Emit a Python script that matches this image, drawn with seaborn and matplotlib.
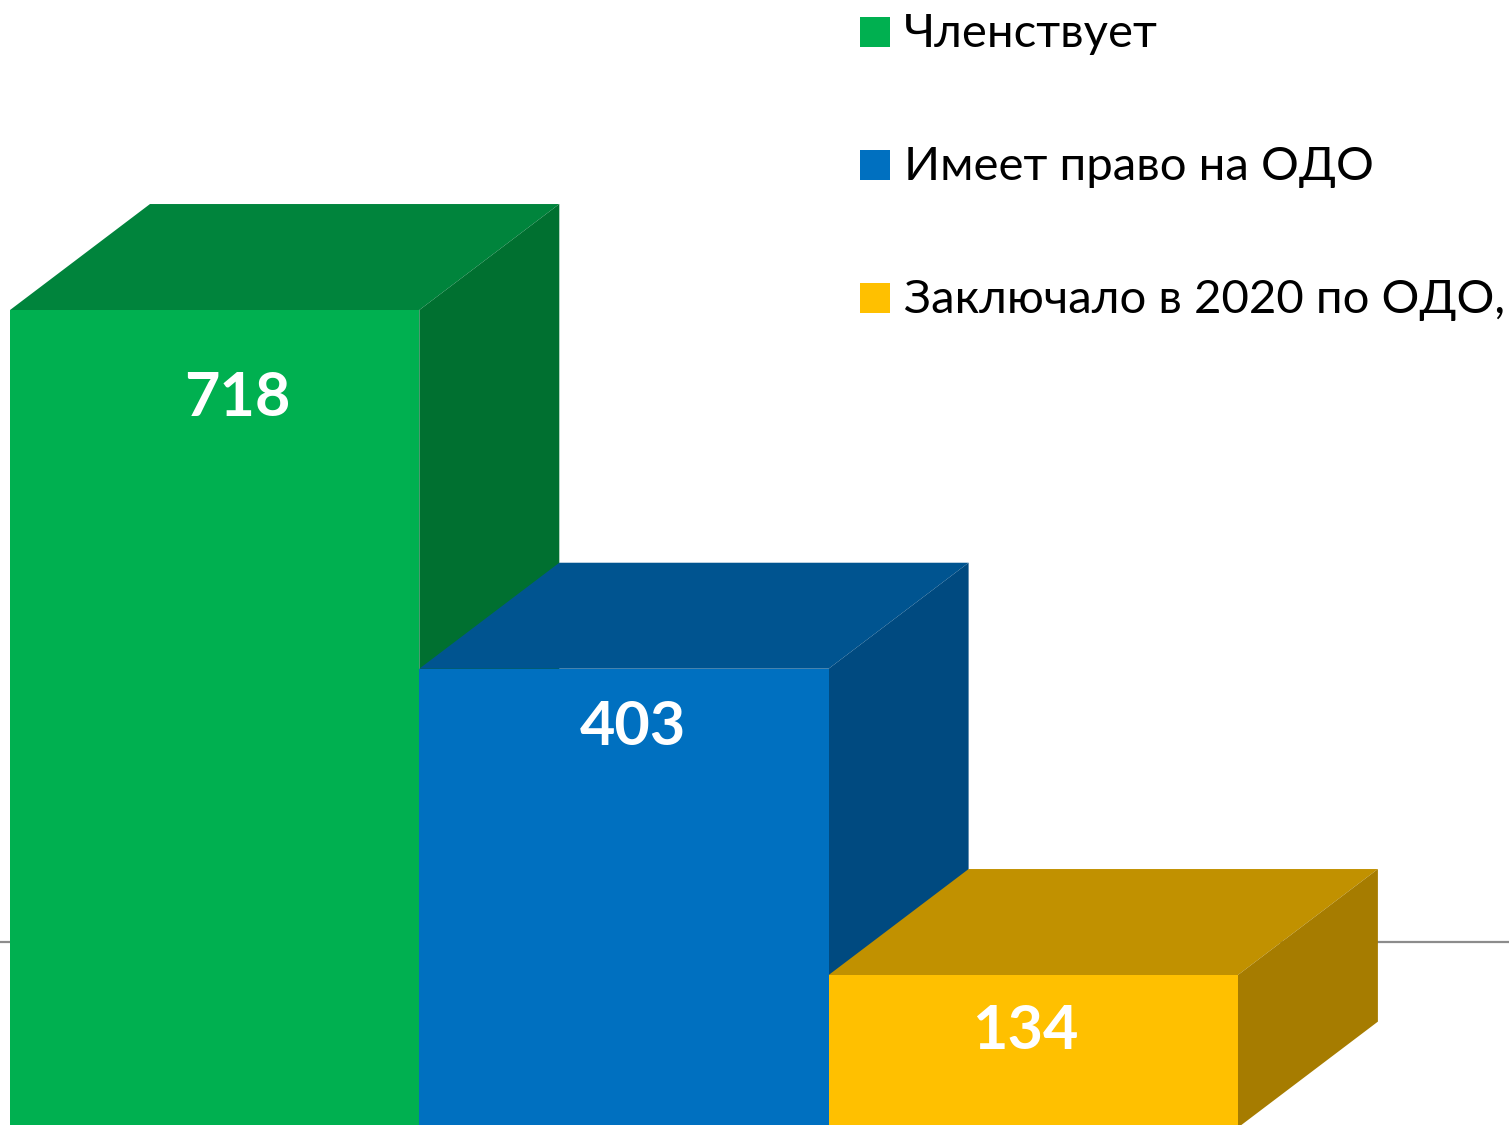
import matplotlib
matplotlib.use("Agg")
import matplotlib.pyplot as plt
import seaborn as sns
import pandas as pd
from matplotlib.patches import Polygon, Rectangle

labels = ["Членствует", "Имеет право на ОДО", "Заключало в 2020 по ОДО,"]
values = [718, 403, 134]
front_colors = ["#00B050", "#0070C0", "#FFC000"]
top_colors = ["#00843C", "#005490", "#C19100"]
side_colors = ["#007030", "#004A80", "#A67C00"]

W, H = 1509, 1125
sns.set_theme(style="white")
plt.rcParams["font.family"] = ["Lato", "Open Sans", "DejaVu Sans"]
fig = plt.figure(figsize=(W / 100, H / 100), dpi=100, facecolor="white")
ax = fig.add_axes([0, 0, 1, 1])

df = pd.DataFrame({"label": labels, "value": values})
sns.barplot(data=df, x="label", y="value", hue="label", palette=front_colors,
            width=1.0, dodge=False, legend=False, saturation=1, ax=ax, zorder=3,
            linewidth=0, edgecolor="none")

px_x = 409.3
px_y = 1.1387
base = 2.3
ax.set_xlim(-0.5 - 10 / px_x, -0.5 + (W - 10) / px_x)
ax.set_ylim(base, base + H / px_y)
ax.axis("off")

dx = 140 / px_x
dy = 106 / px_y
for i, v in enumerate(values):
    l, r = i - 0.5, i + 0.5
    ax.add_patch(Polygon([(l, v), (r, v), (r + dx, v + dy), (l + dx, v + dy)],
                         closed=True, fc=top_colors[i], ec="none", zorder=2 + i * .1))
    ax.add_patch(Polygon([(r, 0), (r, v), (r + dx, v + dy), (r + dx, dy)],
                         closed=True, fc=side_colors[i], ec="none", zorder=2 + i * .1))

ax.axhline(163, color="#8C8C8C", lw=1.6, zorder=1)

label_y = [645, 356, 89]
label_x = [0.055, 1.022, 1.98]
for i, v in enumerate(values):
    ax.text(label_x[i], label_y[i] - 4, str(v), color="white", fontsize=44, fontweight="bold",
            ha="center", va="center", zorder=5)

for i, lab in enumerate(labels):
    y = 32 + i * 133
    fig.patches.append(Rectangle((860 / W, 1 - (y + 15) / H), 30 / W, 30 / H, transform=fig.transFigure,
                                 fc=front_colors[i], ec="none", figure=fig))
    fig.text(904 / W, 1 - (y + 2) / H, lab, fontsize=34, color="black", ha="left", va="center")

fig.savefig("out.png", dpi=100)
